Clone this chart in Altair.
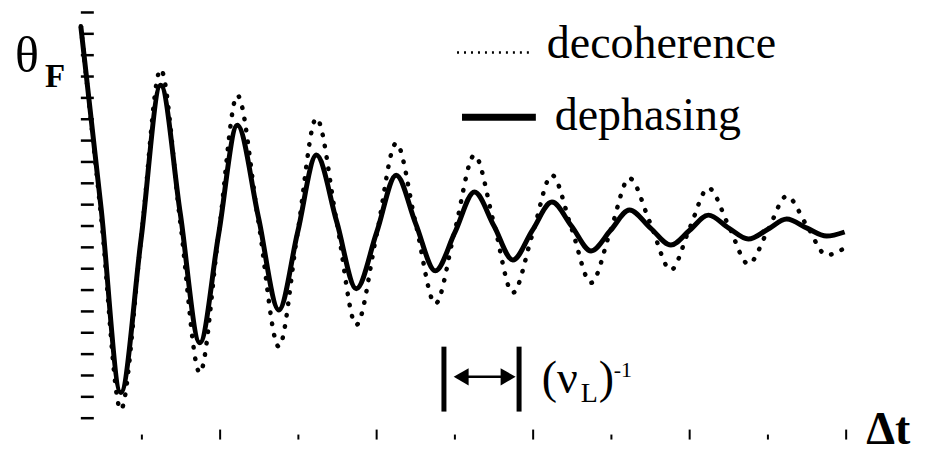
import altair as alt
import pandas as pd

# ---- data (x in tick units, y in y-tick units) ----
t_pts = [0.22, 0.48, 0.73, 0.99, 1.24, 1.49, 1.74, 1.98, 2.22, 2.49, 2.75, 2.99,
         3.23, 3.49, 3.74, 4.00, 4.25, 4.50, 4.75, 5.00, 5.25, 5.50, 5.74, 5.99,
         6.24, 6.49, 6.74, 6.99, 7.23, 7.50, 7.76, 8.00, 8.24, 8.50, 8.75, 9.00,
         9.24, 9.50, 9.75, 9.98]
dephasing = [19.35, 10.8, 2.20, 9.4, 16.59, 10.6, 4.53, 9.6, 14.72, 10.4, 6.07, 9.7,
             13.32, 10.2, 7.06, 9.7, 12.38, 10.1, 7.90, 9.7, 11.59, 10.0, 8.41, 9.8,
             11.12, 10.0, 8.83, 9.8, 10.75, 9.9, 9.11, 9.8, 10.51, 9.9, 9.39, 9.85,
             10.33, 9.9, 9.53, 9.72]
decoherence = [19.35, 10.4, 1.40, 9.4, 17.34, 10.2, 3.13, 9.6, 16.12, 10.2, 4.35, 9.7,
               15.05, 10.2, 5.37, 9.6, 13.88, 10.1, 6.36, 9.8, 13.32, 10.1, 6.87, 9.6,
               12.38, 9.9, 7.34, 9.8, 12.24, 10.1, 7.94, 9.9, 11.78, 10.0, 8.22, 9.8,
               11.40, 10.0, 8.64, 8.97]
y_ticks = list(range(1, 21))
x_minor_ticks = [1, 3, 5, 7, 9]
x_major_ticks = [2, 4, 6, 8, 10]
period_marks = [4.86, 5.82]
series_names = ["decoherence", "dephasing"]

W, H = 767, 428
FONT = "Liberation Serif"
xs = alt.Scale(domain=[0.22, 10], nice=False, zero=False)
ys = alt.Scale(domain=[0, 20], nice=False, zero=False)

df_deph = pd.DataFrame({"t": t_pts, "v": dephasing})
df_deco = pd.DataFrame({"t": t_pts, "v": decoherence})
one = pd.DataFrame({"_": [0]})

axis_x = alt.Axis(domain=True, ticks=False, labels=False, grid=False, title=None,
                  domainWidth=3, domainColor="black")
axis_y = alt.Axis(domain=True, ticks=False, labels=False, grid=False, title=None,
                  domainWidth=3, domainColor="black")

deco = alt.Chart(df_deco).mark_line(
    interpolate="monotone", color="black", strokeWidth=4.5,
    strokeDash=[0.5, 11], strokeCap="round"
).encode(
    x=alt.X("t:Q", scale=xs, axis=axis_x),
    y=alt.Y("v:Q", scale=ys, axis=axis_y),
)

deph = alt.Chart(df_deph).mark_line(
    interpolate="monotone", color="black", strokeWidth=5, strokeJoin="round"
).encode(
    x=alt.X("t:Q", scale=xs, axis=None),
    y=alt.Y("v:Q", scale=ys, axis=None),
)

ytick = alt.Chart(pd.DataFrame({"v": y_ticks})).mark_rule(color="black", strokeWidth=2.5).encode(
    y=alt.Y("v:Q", scale=ys, axis=None), x=alt.value(0), x2=alt.value(13))
xminor = alt.Chart(pd.DataFrame({"v": x_minor_ticks})).mark_rule(color="black", strokeWidth=2).encode(
    x=alt.X("v:Q", scale=xs, axis=None), y=alt.value(H), y2=alt.value(H - 5))
xmajor = alt.Chart(pd.DataFrame({"v": x_major_ticks})).mark_rule(color="black", strokeWidth=2).encode(
    x=alt.X("v:Q", scale=xs, axis=None), y=alt.value(H), y2=alt.value(H - 10))

# period bracket
bars = alt.Chart(pd.DataFrame({"t": period_marks})).mark_rule(color="black", strokeWidth=5).encode(
    x=alt.X("t:Q", scale=xs, axis=None),
    y=alt.datum(4.35, scale=ys), y2=alt.datum(1.31))
shaft = alt.Chart(one).mark_rule(color="black", strokeWidth=2.5).encode(
    x=alt.datum(5.08, scale=xs), x2=alt.datum(5.68), y=alt.datum(2.94, scale=ys))
head_l = alt.Chart(one).mark_point(shape="triangle-left", filled=True, color="black",
                                   size=300, opacity=1).encode(
    x=alt.datum(5.08, scale=xs), y=alt.datum(2.94, scale=ys))
head_r = alt.Chart(one).mark_point(shape="triangle-right", filled=True, color="black",
                                   size=300, opacity=1).encode(
    x=alt.datum(5.68, scale=xs), y=alt.datum(2.94, scale=ys))


def txt(s, x, y, size, bold=False):
    kw = dict(text=s, font=FONT, fontSize=size, align="left",
              baseline="alphabetic", color="black")
    if bold:
        kw["fontWeight"] = "bold"
    return alt.Chart(one).mark_text(**kw).encode(x=alt.value(x), y=alt.value(y))


labels = [
    txt("(ν", 462, 381, 46),
    txt("L", 501, 390, 28),
    txt(")", 519, 381, 46),
    txt("-1", 534, 365, 22),
    txt("θ", -66, 60, 50),
    txt("F", -36, 75, 33, True),
    txt("Δt", 787, 432, 46, True),
    txt(series_names[0], 467, 46, 46),
    txt(series_names[1], 475, 118, 46),
]

leg_dot = alt.Chart(one).mark_rule(color="black", strokeWidth=2.5, strokeDash=[2, 5]).encode(
    x=alt.value(377), x2=alt.value(449), y=alt.value(40))
leg_solid = alt.Chart(one).mark_rule(color="black", strokeWidth=7).encode(
    x=alt.value(382), x2=alt.value(456), y=alt.value(105))

chart = alt.layer(
    deco, deph, ytick, xminor, xmajor, bars, shaft, head_l, head_r,
    leg_dot, leg_solid, *labels
).properties(
    width=W, height=H,
    autosize=alt.AutoSizeParams(type="none"),
    padding={"left": 73, "top": 4, "right": 80, "bottom": 14},
    background="white",
).configure_view(stroke=None)

chart.save("out.html", embed_options={"renderer": "svg", "actions": False})
